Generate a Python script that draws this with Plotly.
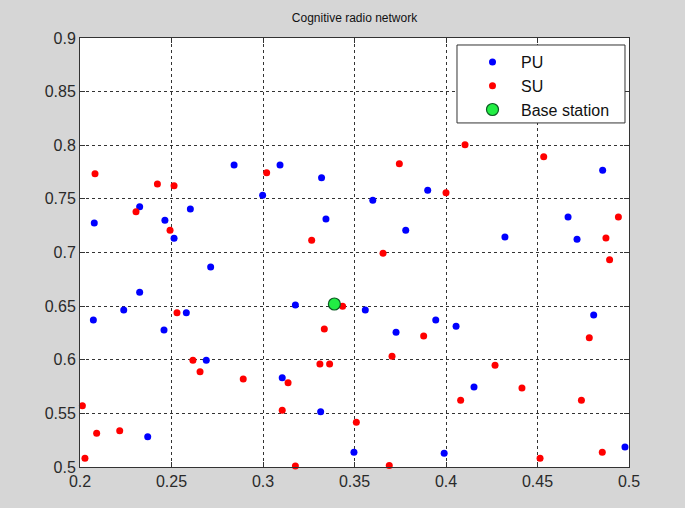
import plotly.graph_objects as go

pu_x = [0.2842, 0.2998, 0.2326, 0.2603, 0.2078, 0.2464, 0.2514, 0.2714, 0.2326,
        0.3093, 0.3320, 0.3900, 0.3600, 0.3344, 0.3780, 0.3177,
        0.4856, 0.4667, 0.4322, 0.4716,
        0.2073, 0.2239, 0.2459, 0.2581, 0.2690, 0.2370,
        0.3559, 0.3944, 0.3727, 0.3105, 0.3315, 0.3497, 0.3990,
        0.4055, 0.4807, 0.4153, 0.4978]
pu_y = [0.7816, 0.7533, 0.7427, 0.7406, 0.7275, 0.7300, 0.7132, 0.6865, 0.6629,
        0.7816, 0.7698, 0.7580, 0.7487, 0.7312, 0.7207, 0.6510,
        0.7766, 0.7331, 0.7144, 0.7123,
        0.6371, 0.6464, 0.6277, 0.6439, 0.5995, 0.5283,
        0.6464, 0.6371, 0.6256, 0.5833, 0.5516, 0.5137, 0.5128,
        0.6312, 0.6417, 0.5746, 0.5186]

su_x = [0.2082, 0.2423, 0.2514, 0.2306, 0.2492,
        0.3020, 0.3745, 0.4000, 0.3266, 0.3656,
        0.4104, 0.4534, 0.4942, 0.4874, 0.4894,
        0.2530, 0.2617, 0.2656, 0.2892, 0.2013, 0.2091, 0.2217, 0.2027,
        0.3435, 0.3335, 0.3878, 0.3705, 0.3311, 0.3364, 0.3137, 0.3105, 0.3510, 0.3177, 0.3690,
        0.4783, 0.4268, 0.4415, 0.4080, 0.4740, 0.4514, 0.4854]
su_y = [0.7735, 0.7639, 0.7623, 0.7380, 0.7207,
        0.7744, 0.7828, 0.7557, 0.7114, 0.6993,
        0.8005, 0.7893, 0.7331, 0.7135, 0.6933,
        0.6439, 0.5995, 0.5889, 0.5820, 0.5572, 0.5314, 0.5339, 0.5081,
        0.6500, 0.6287, 0.6221, 0.6032, 0.5960, 0.5960, 0.5786, 0.5529, 0.5417, 0.5010, 0.5015,
        0.6206, 0.5949, 0.5737, 0.5622, 0.5622, 0.5081, 0.5137]

bs_x = [0.339]
bs_y = [0.652]

x_ticks = [0.2, 0.25, 0.3, 0.35, 0.4, 0.45, 0.5]
x_labels = ["0.2", "0.25", "0.3", "0.35", "0.4", "0.45", "0.5"]
y_ticks = [0.5, 0.55, 0.6, 0.65, 0.7, 0.75, 0.8, 0.85, 0.9]
y_labels = ["0.5", "0.55", "0.6", "0.65", "0.7", "0.75", "0.8", "0.85", "0.9"]

FONT = "Liberation Sans, Arial, sans-serif"

fig = go.Figure()
fig.add_trace(go.Scatter(x=pu_x, y=pu_y, mode="markers", name="PU",
                         marker=dict(color="#0000ff", size=7, line=dict(width=0)),
                         cliponaxis=False))
fig.add_trace(go.Scatter(x=su_x, y=su_y, mode="markers", name="SU",
                         marker=dict(color="#ff0000", size=7, line=dict(width=0)),
                         cliponaxis=False))
fig.add_trace(go.Scatter(x=bs_x, y=bs_y, mode="markers", name="Base station",
                         marker=dict(color="#22ee44", size=12, line=dict(width=1.2, color="#0b5a22")),
                         cliponaxis=False))

axis_common = dict(
    showline=True, linecolor="#333333", linewidth=1, mirror="all",
    ticks="inside", ticklen=5, tickcolor="#333333",
    showgrid=True, gridcolor="#333333", gridwidth=1, griddash="3px,3px",
    zeroline=False,
    tickfont=dict(family=FONT, size=16, color="#2a2a2a"),
)

fig.update_xaxes(range=[0.2, 0.5], tickvals=x_ticks, ticktext=x_labels, **axis_common)
fig.update_yaxes(range=[0.5, 0.9], tickvals=y_ticks, ticktext=y_labels, **axis_common)

# legend frame (paper coordinates of the plot area)
fig.add_shape(type="rect", xref="paper", yref="paper",
              x0=0.6867, x1=0.9927, y0=0.802, y1=0.9837,
              line=dict(color="#333333", width=1), fillcolor="#ffffff", layer="above")

fig.update_layout(
    width=685, height=508,
    margin=dict(l=80, r=56, t=38, b=41),
    paper_bgcolor="#d6d6d6", plot_bgcolor="#ffffff",
    title=dict(text="Cognitive radio network", x=(80 + 629) / 2 / 685, xanchor="center",
               y=1 - 18 / 508, yanchor="middle",
               font=dict(family=FONT, size=12, color="#111111")),
    legend=dict(x=0.6867, xanchor="left", y=0.9837, yanchor="top",
                bgcolor="rgba(0,0,0,0)", borderwidth=0,
                itemwidth=47, indentation=7,
                font=dict(family=FONT, size=16, color="#111111")),
    showlegend=True,
)

fig.write_html("out.html", config={"displayModeBar": False},
               post_script="document.body.style.margin='0';document.body.style.background='#d6d6d6';")
